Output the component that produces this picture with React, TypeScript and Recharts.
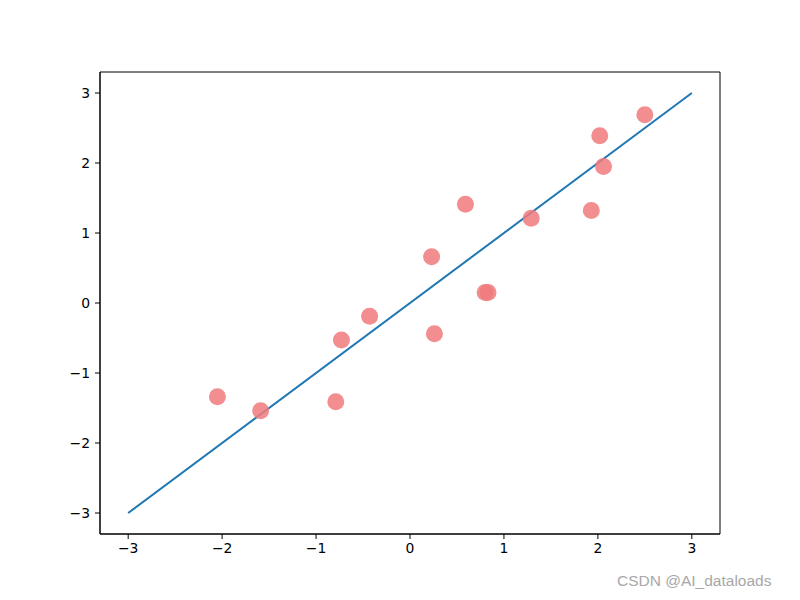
import React from "react";
import {
  ComposedChart,
  Line,
  Scatter,
  XAxis,
  YAxis,
  ReferenceArea,
} from "recharts";

document.body.style.margin = "0";

// sample points
const xs = [-2.05, -1.59, -0.79, -0.73, -0.43, 0.23, 0.26, 0.59, 0.8, 0.83, 1.29, 1.93, 2.02, 2.06, 2.5];
const ys = [-1.34, -1.54, -1.41, -0.53, -0.19, 0.66, -0.44, 1.41, 0.15, 0.15, 1.21, 1.32, 2.39, 1.95, 2.69];

// y = x reference line
const lineX = [-3, 3];
const lineY = [-3, 3];

const ticks = [-3, -2, -1, 0, 1, 2, 3];

const points = xs.map((x, i) => ({ x, y: ys[i] }));
const linePts = lineX.map((x, i) => ({ x, y: lineY[i] }));

const fmt = (v: number) => String(v).replace("-", "\u2212");

const tickStyle = { fill: "#000", fontSize: 13.9, fontFamily: "DejaVu Sans" };

const Dot = (props: any) => (
  <circle cx={props.cx} cy={props.cy} r={8.5} fill="#f07a7e" fillOpacity={0.86} />
);

export default function App() {
  return (
    <div style={{ position: "relative", width: 800, height: 600, background: "#fff" }}>
      <ComposedChart
        width={800}
        height={600}
        margin={{ top: 72, right: 80, bottom: 36, left: 60 }}
      >
        <XAxis
          type="number"
          dataKey="x"
          domain={[-3.3, 3.3]}
          ticks={ticks}
          allowDataOverflow
          height={30}
          tickSize={5}
          tickMargin={4}
          tickFormatter={fmt}
          tick={tickStyle}
          stroke="#000"
          tickLine={{ stroke: "#000" }}
        />
        <YAxis
          type="number"
          dataKey="y"
          domain={[-3.3, 3.3]}
          ticks={ticks}
          allowDataOverflow
          width={40}
          tickSize={5}
          tickMargin={5}
          tickFormatter={fmt}
          tick={tickStyle}
          stroke="#000"
          tickLine={{ stroke: "#000" }}
        />
        <ReferenceArea
          x1={-3.3}
          x2={3.3}
          y1={-3.3}
          y2={3.3}
          fill="none"
          fillOpacity={0}
          stroke="#000"
          strokeWidth={1}
          ifOverflow="visible"
        />
        <Line
          data={linePts}
          dataKey="y"
          stroke="#1f77b4"
          strokeWidth={2}
          dot={false}
          activeDot={false}
          isAnimationActive={false}
        />
        <Scatter data={points} dataKey="y" shape={Dot} isAnimationActive={false} />
      </ComposedChart>
      <div
        style={{
          position: "absolute",
          left: 617,
          top: 572,
          fontFamily: "Liberation Sans, Arial, sans-serif",
          fontSize: 15.5,
          color: "#a8a8a8",
          whiteSpace: "nowrap",
        }}
      >
        CSDN @AI_dataloads
      </div>
    </div>
  );
}
